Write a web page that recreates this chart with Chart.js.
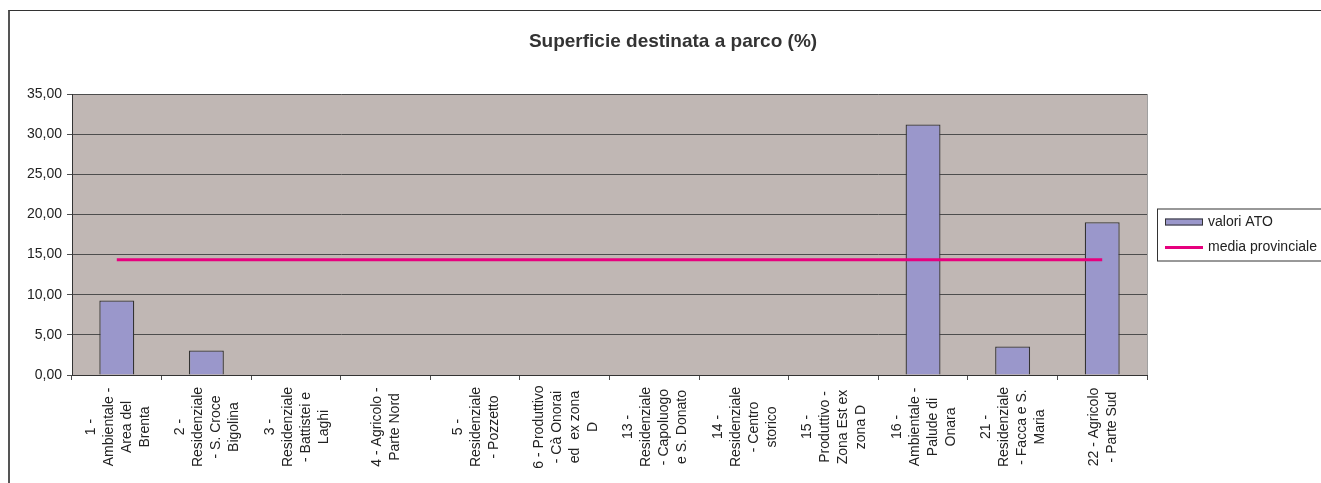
<!DOCTYPE html>
<html lang="it">
<head>
<meta charset="utf-8">
<title>Superficie destinata a parco (%)</title>
<script src="https://cdn.jsdelivr.net/npm/chart.js@4.4.1/dist/chart.umd.min.js"></script>
<style>
  html, body { margin: 0; padding: 0; background: #fff; overflow: hidden; }
  #frame { position: absolute; left: 8px; top: 10px; width: 1340px; height: 500px;
           border-top: 1px solid #333; border-left: 2px solid #555; }
  #wrap { position: absolute; left: 0; top: 0; width: 1321px; height: 483px; }
</style>
</head>
<body>
<div id="frame"></div>
<div id="wrap"><canvas id="chart"></canvas></div>
<script>
// chart data
const chartTitle = "Superficie destinata a parco (%)";

const atoLabels = [
  ["1 -", "Ambientale -", "Area del", "Brenta"],
  ["2 -", "Residenziale", "- S. Croce", "Bigolina"],
  ["3 -", "Residenziale", "- Battistei e", "Laghi"],
  ["4 - Agricolo -", "Parte Nord"],
  ["5 -", "Residenziale", "- Pozzetto"],
  ["6 - Produttivo", "- Cà Onorai", "ed  ex zona", "D"],
  ["13 -", "Residenziale", "- Capoluogo", "e S. Donato"],
  ["14 -", "Residenziale", "- Centro", "storico"],
  ["15 -", "Produttivo -", "Zona Est ex", "zona D"],
  ["16 -", "Ambientale -", "Palude di", "Onara"],
  ["21 -", "Residenziale", "- Facca e S.", "Maria"],
  ["22 - Agricolo", "- Parte Sud"]
];

const valoriATO = [9.28, 3.05, 0, 0, 0, 0, 0, 0, 0, 31.2, 3.55, 19.03];
const mediaProvinciale = [14.35, 14.35, 14.35, 14.35, 14.35, 14.35, 14.35, 14.35, 14.35, 14.35, 14.35, 14.35];

const seriesNames = ["valori ATO", "media provinciale"];
const yMin = 0, yMax = 35, yStep = 5;

// colours
const barFill = "#9a97cb";
const barEdge = "#333333";
const lineColor = "#e6007e";
const plotBg = "#c0b7b4";
const gridColor = "#4d4d4d";
const textColor = "#222222";
const FONT = "'Liberation Sans', Arial, sans-serif";

// grey plot area
const plotBackground = {
  id: "plotBackground",
  beforeDraw(chart) {
    const { ctx, chartArea: a } = chart;
    ctx.save();
    ctx.fillStyle = plotBg;
    ctx.fillRect(a.left, a.top, a.right - a.left, a.bottom - a.top);
    ctx.strokeStyle = "#a0a0a0";
    ctx.lineWidth = 1;
    ctx.beginPath();
    ctx.moveTo(a.right + 0.5, a.top);
    ctx.lineTo(a.right + 0.5, a.bottom);
    ctx.stroke();
    ctx.restore();
  }
};

// vertical, centred, multi-line category labels
const xLabels = {
  id: "xLabels",
  afterDraw(chart) {
    const { ctx } = chart;
    const xs = chart.scales.x;
    const lineH = 18;
    const midY = chart.chartArea.bottom + 52;
    ctx.save();
    ctx.fillStyle = textColor;
    ctx.font = "14px " + FONT;
    ctx.textAlign = "center";
    ctx.textBaseline = "middle";
    atoLabels.forEach((lines, i) => {
      const x = xs.getPixelForValue(i) + 1;
      ctx.save();
      ctx.translate(x, midY);
      ctx.rotate(-Math.PI / 2);
      lines.forEach((t, j) => {
        ctx.fillText(t, 0, (j - (lines.length - 1) / 2) * lineH);
      });
      ctx.restore();
    });
    ctx.restore();
  }
};

// title centred over the whole (partly cut) chart frame
const titleText = {
  id: "titleText",
  afterDraw(chart) {
    const { ctx } = chart;
    ctx.save();
    ctx.fillStyle = "#333";
    ctx.font = "bold 19px " + FONT;
    ctx.textAlign = "center";
    ctx.textBaseline = "middle";
    ctx.fillText(chartTitle, 673, 42);
    ctx.restore();
  }
};

// boxed legend to the right of the plot
const boxLegend = {
  id: "boxLegend",
  afterDraw(chart) {
    const { ctx, chartArea: a } = chart;
    const left = a.right + 10;
    const midY = (a.top + a.bottom) / 2;
    const top = midY - 26;
    ctx.save();
    ctx.strokeStyle = "#333";
    ctx.lineWidth = 1;
    ctx.strokeRect(left + 0.5, top + 0.5, 200, 52);

    const sx = left + 8, sw = 38;
    // bar swatch
    ctx.fillStyle = barFill;
    ctx.fillRect(sx, top + 10, sw, 7);
    ctx.strokeStyle = barEdge;
    ctx.strokeRect(sx + 0.5, top + 10.5, sw - 1, 6);
    // line swatch
    ctx.strokeStyle = lineColor;
    ctx.lineWidth = 3;
    ctx.beginPath();
    ctx.moveTo(sx, top + 39);
    ctx.lineTo(sx + sw, top + 39);
    ctx.stroke();

    ctx.fillStyle = textColor;
    ctx.font = "14px " + FONT;
    ctx.textBaseline = "middle";
    ctx.fillText(seriesNames[0], sx + sw + 5, top + 14);
    ctx.fillText(seriesNames[1], sx + sw + 5, top + 39);
    ctx.restore();
  }
};

const ctx = document.getElementById("chart").getContext("2d");
new Chart(ctx, {
  type: "bar",
  data: {
    labels: atoLabels.map(l => l.join(" ")),
    datasets: [
      {
        label: seriesNames[1],
        type: "line",
        data: mediaProvinciale,
        borderColor: lineColor,
        backgroundColor: lineColor,
        borderWidth: 3,
        pointRadius: 0,
        tension: 0,
        order: 0
      },
      {
        label: seriesNames[0],
        data: valoriATO,
        backgroundColor: barFill,
        borderColor: barEdge,
        borderWidth: 1.3,
        barPercentage: 0.39,
        categoryPercentage: 1,
        order: 1
      }
    ]
  },
  options: {
    responsive: true,
    maintainAspectRatio: false,
    animation: false,
    layout: { padding: { top: 94, left: 0, right: 174, bottom: 0 } },
    plugins: {
      legend: { display: false },
      title: { display: false },
      tooltip: { enabled: false }
    },
    scales: {
      x: {
        afterFit: s => { s.height = 108; },
        ticks: { display: false },
        grid: { offset: true, drawOnChartArea: false, drawTicks: true, tickLength: 5, color: gridColor },
        border: { color: "#333" }
      },
      y: {
        min: yMin,
        max: yMax,
        afterFit: s => { s.width = 72; },
        ticks: {
          stepSize: yStep,
          padding: 5,
          color: textColor,
          font: { family: FONT, size: 14 },
          callback: v => v.toFixed(2).replace(".", ",")
        },
        grid: { color: gridColor, tickLength: 5 },
        border: { color: "#333" }
      }
    }
  },
  plugins: [plotBackground, xLabels, titleText, boxLegend]
});
</script>
</body>
</html>
